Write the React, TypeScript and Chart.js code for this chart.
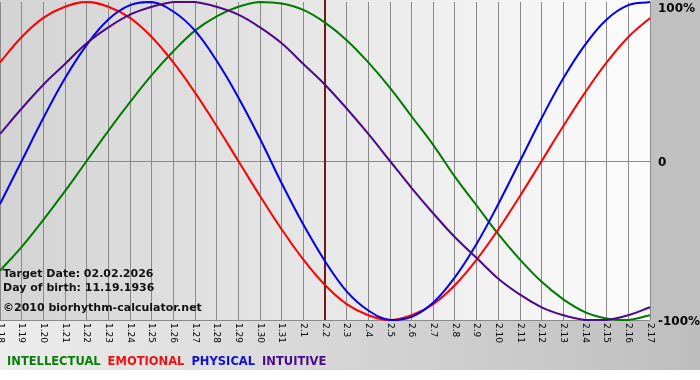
import React, { useEffect, useRef } from "react";
import { Chart, registerables } from "chart.js";

Chart.register(...registerables);

const dates = [
  "1.18", "1.19", "1.20", "1.21", "1.22", "1.23", "1.24", "1.25", "1.26", "1.27", "1.28", "1.29", "1.30", "1.31",
  "2.1", "2.2", "2.3", "2.4", "2.5", "2.6", "2.7", "2.8", "2.9", "2.10", "2.11", "2.12", "2.13", "2.14", "2.15", "2.16", "2.17",
];

const intellectual = [
  -69, -54, -37, -19, 0, 19, 37, 54, 69, 82, 91, 97, 100, 99, 95, 87, 76, 62, 46, 28, 10,
  -10, -28, -46, -62, -76, -87, -95, -99, -100, -97,
];
const emotional = [
  62, 78, 90, 97, 100, 97, 90, 78, 62, 43, 22, 0, -22, -43, -62, -78, -90, -97, -100, -97, -90,
  -78, -62, -43, -22, 0, 22, 43, 62, 78, 90,
];
const physical = [
  -27, 0, 27, 52, 73, 89, 98, 100, 94, 82, 63, 40, 14, -14, -40, -63, -82, -94, -100, -98, -89,
  -73, -52, -27, 0, 27, 52, 73, 89, 98, 100,
];
const intuitive = [
  17, 33, 48, 61, 74, 84, 92, 97, 100, 100, 97, 92, 84, 74, 61, 48, 33, 17, 0, -17, -33,
  -48, -61, -74, -84, -92, -97, -100, -100, -97, -92,
];

const yTicks = ["100%", "0", "-100%"];
const yTickValues = [100, 0, -100];
const targetIndex = 15; // 2.2
const infoLines = ["Target Date: 02.02.2026", "Day of birth: 11.19.1936", "©2010 biorhythm-calculator.net"];
const legendItems = [
  { label: "INTELLECTUAL", color: "#0a7d0a" },
  { label: "EMOTIONAL", color: "#ee1111" },
  { label: "PHYSICAL", color: "#1111cc" },
  { label: "INTUITIVE", color: "#4b0a8a" },
];

const FONT = "'DejaVu Sans', Verdana, sans-serif";

const decorPlugin = {
  id: "decor",
  beforeDraw(chart: any) {
    const { ctx, chartArea } = chart;
    ctx.save();
    const g = ctx.createLinearGradient(0, 0, 700, 0);
    g.addColorStop(0, "#ececec");
    g.addColorStop(1, "#bebebe");
    ctx.fillStyle = g;
    ctx.fillRect(0, 0, 700, 370);
    ctx.fillStyle = "#c0c0c0";
    ctx.fillRect(chartArea.right, 0, 700 - chartArea.right, chartArea.bottom);
    const pg = ctx.createLinearGradient(chartArea.left, 0, chartArea.right, 0);
    pg.addColorStop(0, "#d3d3d3");
    pg.addColorStop(1, "#fcfcfc");
    ctx.fillStyle = pg;
    ctx.fillRect(0, 0, chartArea.right, chartArea.bottom);
    ctx.restore();
  },
  beforeDatasetsDraw(chart: any) {
    const { ctx, chartArea } = chart;
    const x = chart.scales.x.getPixelForValue(targetIndex);
    ctx.save();
    ctx.strokeStyle = "#741818";
    ctx.lineWidth = 2;
    ctx.beginPath();
    ctx.moveTo(x, 0);
    ctx.lineTo(x, chartArea.bottom);
    ctx.stroke();
    ctx.restore();
  },
  afterDraw(chart: any) {
    const { ctx, chartArea } = chart;
    const xs = chart.scales.x;
    const ys = chart.scales.y;
    ctx.save();
    ctx.fillStyle = "#000";
    ctx.font = `9px ${FONT}`;
    ctx.textAlign = "left";
    ctx.textBaseline = "middle";
    dates.forEach((d, i) => {
      const x = xs.getPixelForValue(i);
      ctx.save();
      ctx.translate(x, chartArea.bottom + 3);
      ctx.rotate(Math.PI / 2);
      ctx.fillText(d, 0, 0);
      ctx.restore();
    });
    ctx.font = `bold 12px ${FONT}`;
    yTicks.forEach((t, i) => {
      let y = ys.getPixelForValue(yTickValues[i]);
      if (y < 7) y = 7;
      ctx.fillText(t, chartArea.right + 8, y + 1.5);
    });
    ctx.font = `bold 11px ${FONT}`;
    ctx.textBaseline = "alphabetic";
    ctx.fillStyle = "#111";
    ctx.fillText(infoLines[0], 3, 277);
    ctx.fillText(infoLines[1], 3, 291);
    ctx.fillText(infoLines[2], 3, 311);
    let lx = 7;
    ctx.font = `bold 11.5px ${FONT}`;
    legendItems.forEach((it) => {
      ctx.fillStyle = it.color;
      ctx.fillText(it.label, lx, 365);
      lx += ctx.measureText(it.label).width + 7;
    });
    ctx.restore();
  },
};

export default function App() {
  const ref = useRef<HTMLCanvasElement>(null);
  useEffect(() => {
    document.body.style.margin = "0";
    const canvas = ref.current!;
    const chart = new Chart(canvas, {
      type: "line",
      data: {
        labels: dates,
        datasets: [
          { label: "INTUITIVE", data: intuitive, borderColor: "#4b0a8a" },
          { label: "PHYSICAL", data: physical, borderColor: "#0000ee" },
          { label: "EMOTIONAL", data: emotional, borderColor: "#ff0000" },
          { label: "INTELLECTUAL", data: intellectual, borderColor: "#007a00" },
        ].map((d) => ({ ...d, borderWidth: 2, pointRadius: 0, tension: 0.4, fill: false, clip: 4 })),
      },
      options: {
        responsive: false,
        animation: false,
        devicePixelRatio: 1,
        layout: { padding: { left: 0, top: 2, right: 50, bottom: 60 } },
        plugins: { legend: { display: false }, tooltip: { enabled: false } },
        scales: {
          x: {
            offset: false,
            ticks: { display: false },
            grid: { color: "#8a8a8a", lineWidth: 1, drawTicks: false },
            border: { display: false },
          },
          y: {
            min: -100,
            max: 100,
            ticks: { display: false, stepSize: 100 },
            grid: {
              color: (c: any) => (c.tick && c.tick.value === 100 ? "rgba(0,0,0,0)" : "#8a8a8a"),
              lineWidth: 1,
              drawTicks: false,
            },
            border: { display: false },
          },
        },
      },
      plugins: [decorPlugin],
    });
    return () => chart.destroy();
  }, []);
  return (
    <div style={{ position: "absolute", left: 0, top: 0, width: 700, height: 380 }}>
      <canvas ref={ref} width={700} height={380} style={{ width: 700, height: 380 }} />
    </div>
  );
}
